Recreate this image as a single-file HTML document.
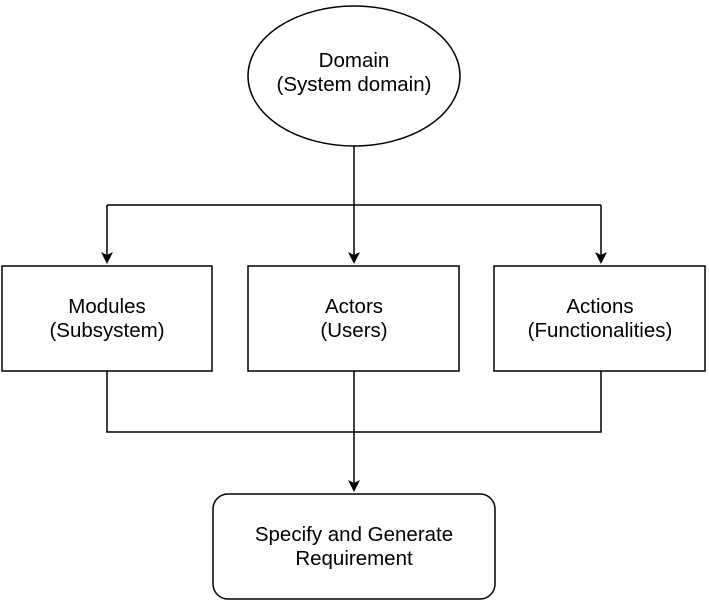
<!DOCTYPE html>
<html><head><style>html,body{margin:0;padding:0;background:#fff}</style></head>
<body>
<svg width="709" height="603" xmlns="http://www.w3.org/2000/svg" style="display:block">
<g fill="none" stroke="#000" stroke-width="1.5">
<ellipse cx="354" cy="76" rx="106" ry="70" fill="#fff"/>
<rect x="2" y="266" width="210" height="105" fill="#fff"/>
<rect x="248" y="266" width="211" height="105" fill="#fff"/>
<rect x="494" y="266" width="211" height="105" fill="#fff"/>
<rect x="213" y="494" width="282" height="105" rx="15" fill="#fff"/>
<path d="M354 146 V258"/>
<path d="M107 205 H601"/>
<path d="M107 205 V258"/>
<path d="M601 205 V258"/>
<path d="M107 371 V432 H601 V371"/>
<path d="M354 371 V486"/>
</g>
<g fill="#000">
<path d="M348 252 L354 264 L360 252 L354 255 Z"/>
<path d="M101 252 L107 264 L113 252 L107 255 Z"/>
<path d="M595 252 L601 264 L607 252 L601 255 Z"/>
<path d="M348 480 L354 492 L360 480 L354 483 Z"/>
</g>
<g font-family="Liberation Sans, sans-serif" font-size="20.5" text-anchor="middle" fill="#000">
<text x="354" y="67">Domain</text><text x="354" y="91">(System domain)</text>
<text x="107" y="313">Modules</text><text x="107" y="337">(Subsystem)</text>
<text x="354" y="313">Actors</text><text x="354" y="337">(Users)</text>
<text x="600" y="313">Actions</text><text x="600" y="337">(Functionalities)</text>
<text x="354" y="541">Specify and Generate</text><text x="354" y="565">Requirement</text>
</g>
</svg>
</body></html>
